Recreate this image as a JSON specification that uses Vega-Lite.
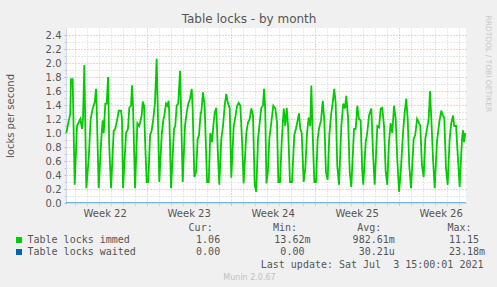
{
  "$schema": "https://vega.github.io/schema/vega-lite/v6.json",
  "autosize": {"type": "none"},
  "width": 400,
  "height": 175,
  "padding": {"left": 66, "top": 28, "right": 31, "bottom": 84},
  "background": "#f0f0f0",
  "view": {"fill": "#ffffff", "stroke": null},
  "config": {"font": "DejaVu Sans"},
  "title": {"text": "Table locks - by month", "font": "DejaVu Sans", "fontSize": 12, "fontWeight": "normal", "color": "#555555", "anchor": "middle", "frame": "group", "dx": -17, "baseline": "alphabetic", "offset": -20},
  "datasets": {
    "immed": [
      {"day":0.3,"value":1.0},{"day":0.63,"value":1.28},{"day":0.69,"value":1.77},{"day":0.83,"value":1.77},{"day":1.0,"value":0.26},{"day":1.19,"value":1.1},{"day":1.47,"value":1.2},{"day":1.61,"value":1.06},{"day":1.69,"value":1.2},{"day":1.8,"value":1.97},{"day":1.97,"value":0.21},
      {"day":2.17,"value":0.64},{"day":2.33,"value":1.2},{"day":2.5,"value":1.35},{"day":2.67,"value":1.44},{"day":2.78,"value":1.63},{"day":2.83,"value":1.39},{"day":3.0,"value":0.21},
      {"day":3.22,"value":0.92},{"day":3.33,"value":1.18},{"day":3.42,"value":1.0},{"day":3.55,"value":1.42},{"day":3.67,"value":1.42},{"day":3.78,"value":1.8},{"day":3.88,"value":0.82},{"day":4.03,"value":0.21},
      {"day":4.25,"value":1.03},{"day":4.38,"value":1.06},{"day":4.53,"value":1.18},{"day":4.67,"value":1.32},{"day":4.86,"value":1.32},{"day":4.94,"value":1.2},{"day":5.03,"value":0.21},
      {"day":5.28,"value":1.0},{"day":5.44,"value":1.06},{"day":5.55,"value":1.36},{"day":5.69,"value":1.39},{"day":5.78,"value":1.68},{"day":5.86,"value":1.39},{"day":6.03,"value":0.21},
      {"day":6.22,"value":1.14},{"day":6.38,"value":1.1},{"day":6.58,"value":1.25},{"day":6.67,"value":1.45},{"day":6.78,"value":1.39},{"day":6.86,"value":0.92},{"day":7.0,"value":0.3},{"day":7.13,"value":0.3},
      {"day":7.28,"value":0.97},{"day":7.42,"value":1.04},{"day":7.55,"value":1.2},{"day":7.69,"value":1.43},{"day":7.83,"value":2.06},{"day":7.97,"value":0.97},{"day":8.05,"value":0.3},
      {"day":8.25,"value":0.97},{"day":8.38,"value":1.18},{"day":8.47,"value":1.25},{"day":8.61,"value":1.42},{"day":8.72,"value":1.39},{"day":8.83,"value":1.46},{"day":8.88,"value":1.29},{"day":9.03,"value":0.21},
      {"day":9.28,"value":1.06},{"day":9.38,"value":1.1},{"day":9.5,"value":1.39},{"day":9.63,"value":1.42},{"day":9.78,"value":1.89},{"day":9.86,"value":1.35},{"day":10.0,"value":0.3},
      {"day":10.19,"value":1.1},{"day":10.33,"value":1.29},{"day":10.47,"value":1.42},{"day":10.61,"value":1.49},{"day":10.75,"value":1.63},{"day":10.83,"value":1.35},{"day":10.97,"value":0.37},{"day":11.11,"value":0.44},
      {"day":11.25,"value":0.92},{"day":11.36,"value":0.97},{"day":11.5,"value":1.29},{"day":11.55,"value":1.29},{"day":11.69,"value":1.58},{"day":11.83,"value":1.39},{"day":12.03,"value":0.3},{"day":12.17,"value":0.3},
      {"day":12.3,"value":1.0},{"day":12.44,"value":0.87},{"day":12.58,"value":1.15},{"day":12.67,"value":1.29},{"day":12.8,"value":1.36},{"day":12.94,"value":0.68},{"day":13.05,"value":0.26},
      {"day":13.22,"value":0.92},{"day":13.36,"value":1.1},{"day":13.5,"value":1.39},{"day":13.63,"value":1.56},{"day":13.78,"value":1.42},{"day":13.92,"value":1.35},{"day":14.05,"value":0.36},
      {"day":14.25,"value":1.1},{"day":14.38,"value":1.22},{"day":14.53,"value":1.39},{"day":14.67,"value":1.43},{"day":14.8,"value":1.39},{"day":14.94,"value":0.92},{"day":15.08,"value":0.28},
      {"day":15.3,"value":1.0},{"day":15.44,"value":1.15},{"day":15.58,"value":1.2},{"day":15.72,"value":1.35},{"day":15.86,"value":1.25},{"day":16.0,"value":0.26},{"day":16.13,"value":0.16},
      {"day":16.28,"value":0.92},{"day":16.42,"value":1.15},{"day":16.55,"value":1.36},{"day":16.69,"value":1.39},{"day":16.78,"value":1.63},{"day":16.88,"value":1.32},{"day":16.98,"value":0.28},{"day":17.1,"value":0.45},
      {"day":17.22,"value":0.92},{"day":17.42,"value":1.2},{"day":17.55,"value":1.39},{"day":17.72,"value":1.35},{"day":17.86,"value":1.15},{"day":17.97,"value":0.3},{"day":18.11,"value":0.3},
      {"day":18.25,"value":0.87},{"day":18.42,"value":1.35},{"day":18.55,"value":1.1},{"day":18.67,"value":1.36},{"day":18.78,"value":1.1},{"day":18.94,"value":0.3},{"day":19.11,"value":0.3},
      {"day":19.3,"value":0.97},{"day":19.44,"value":1.06},{"day":19.58,"value":1.18},{"day":19.69,"value":1.28},{"day":19.8,"value":1.06},{"day":19.92,"value":1.0},{"day":20.08,"value":0.3},{"day":20.22,"value":0.5},
      {"day":20.36,"value":1.0},{"day":20.5,"value":1.22},{"day":20.63,"value":1.1},{"day":20.72,"value":1.68},{"day":20.83,"value":1.0},{"day":20.97,"value":0.3},{"day":21.11,"value":0.3},
      {"day":21.25,"value":0.92},{"day":21.38,"value":1.08},{"day":21.53,"value":1.18},{"day":21.67,"value":1.46},{"day":21.8,"value":1.18},{"day":21.94,"value":0.44},{"day":22.08,"value":0.33},
      {"day":22.22,"value":0.97},{"day":22.36,"value":1.25},{"day":22.5,"value":1.43},{"day":22.63,"value":1.63},{"day":22.75,"value":1.42},{"day":22.88,"value":0.54},{"day":23.03,"value":0.26},
      {"day":23.22,"value":1.1},{"day":23.38,"value":1.42},{"day":23.53,"value":1.35},{"day":23.63,"value":1.53},{"day":23.78,"value":1.22},{"day":23.92,"value":0.44},{"day":24.05,"value":0.23},
      {"day":24.28,"value":1.06},{"day":24.42,"value":1.06},{"day":24.55,"value":1.39},{"day":24.69,"value":1.2},{"day":24.83,"value":1.18},{"day":24.97,"value":0.44},{"day":25.05,"value":0.26},
      {"day":25.25,"value":0.87},{"day":25.38,"value":1.0},{"day":25.53,"value":1.25},{"day":25.72,"value":1.35},{"day":25.86,"value":0.72},{"day":26.0,"value":0.26},
      {"day":26.22,"value":1.1},{"day":26.36,"value":1.08},{"day":26.5,"value":1.35},{"day":26.63,"value":1.36},{"day":26.78,"value":1.1},{"day":26.92,"value":0.44},{"day":27.05,"value":0.26},
      {"day":27.19,"value":0.87},{"day":27.33,"value":1.14},{"day":27.47,"value":1.0},{"day":27.61,"value":1.39},{"day":27.75,"value":1.2},{"day":27.88,"value":0.64},{"day":28.03,"value":0.16},{"day":28.17,"value":0.44},
      {"day":28.36,"value":1.0},{"day":28.5,"value":1.29},{"day":28.63,"value":1.49},{"day":28.75,"value":1.2},{"day":28.88,"value":0.54},{"day":29.03,"value":0.21},
      {"day":29.25,"value":0.92},{"day":29.38,"value":0.97},{"day":29.53,"value":1.2},{"day":29.67,"value":1.15},{"day":29.8,"value":1.1},{"day":29.94,"value":0.54},{"day":30.08,"value":0.37},
      {"day":30.22,"value":0.92},{"day":30.36,"value":1.06},{"day":30.5,"value":1.2},{"day":30.61,"value":1.6},{"day":30.72,"value":1.2},{"day":30.86,"value":0.64},{"day":31.0,"value":0.21},
      {"day":31.19,"value":0.87},{"day":31.38,"value":1.15},{"day":31.55,"value":1.32},{"day":31.67,"value":1.25},{"day":31.8,"value":1.22},{"day":31.94,"value":0.5},{"day":32.08,"value":0.26},
      {"day":32.25,"value":0.92},{"day":32.38,"value":1.14},{"day":32.53,"value":1.25},{"day":32.63,"value":1.1},{"day":32.78,"value":1.1},{"day":32.94,"value":0.64},{"day":33.08,"value":0.23},
      {"day":33.28,"value":0.92},{"day":33.36,"value":1.04},{"day":33.44,"value":0.87},{"day":33.55,"value":1.0}
    ],
    "waited": [{"day":0.275,"value":0},{"day":33.61,"value":0}]
  },
  "layer": [
    {
      "data": {"name": "immed"},
      "mark": {"type": "line", "strokeWidth": 1.8, "interpolate": "linear"},
      "encoding": {
        "x": {
          "field": "day", "type": "quantitative",
          "scale": {"domain": [0.275, 33.61], "nice": false, "zero": false},
          "axis": {
            "orient": "bottom",
            "values": [1,2,3,3.5,4,5,6,7,8,9,10,10.5,11,12,13,14,15,16,17,17.5,18,19,20,21,22,23,24,24.5,25,26,27,28,29,30,31,31.5,32,33],
            "domain": false,
            "grid": true,
            "gridDash": [1, 2],
            "gridColor": {"condition": {"test": "datum.value % 7 === 0", "value": "#f0a0a0"}, "value": "#d0d0d0"},
            "gridOpacity": {"condition": {"test": "datum.value % 1 !== 0", "value": 0}, "value": 1},
            "ticks": true,
            "tickSize": 2,
            "tickColor": {"condition": {"test": "datum.value % 7 === 0", "value": "#f0a0a0"}, "value": "#c8c8c8"},
            "tickOpacity": {"condition": {"test": "datum.value % 1 !== 0", "value": 0}, "value": 1},
            "labelExpr": "datum.value % 1 ? 'Week ' + (22 + floor(datum.value / 7)) : ''",
            "labelFont": "DejaVu Sans", "labelFontSize": 10, "labelColor": "#555555",
            "labelBaseline": "alphabetic", "labelAlign": "center", "labelPadding": 11,
            "labelOverlap": false, "labelBound": false, "labelFlush": false,
            "title": "Last update: Sat Jul\u00a0\u00a03 15:00:01 2021",
            "titleFont": "DejaVu Sans Mono", "titleFontSize": 10, "titleFontWeight": "normal", "titleColor": "#555555",
            "titleX": 417, "titleY": 64, "titleAlign": "right", "titleBaseline": "alphabetic", "titleAngle": 0
          }
        },
        "y": {
          "field": "value", "type": "quantitative",
          "scale": {"domain": [0, 2.5], "nice": false, "zero": true},
          "axis": {
            "orient": "left",
            "values": [0,0.1,0.2,0.3,0.4,0.5,0.6,0.7,0.8,0.9,1.0,1.1,1.2,1.3,1.4,1.5,1.6,1.7,1.8,1.9,2.0,2.1,2.2,2.3,2.4],
            "domain": true, "domainColor": "#cfd6f8", "domainWidth": 1,
            "grid": true,
            "gridDash": [1, 2],
            "gridColor": {"condition": {"test": "round(datum.value * 10) % 2 === 0", "value": "#f0a0a0"}, "value": "#d0d0d0"},
            "ticks": true,
            "tickSize": 2,
            "tickColor": {"condition": {"test": "round(datum.value * 10) % 2 === 0", "value": "#f0a0a0"}, "value": "#c8c8c8"},
            "labelExpr": "round(datum.value * 10) % 2 ? '' : format(datum.value, '.1f')",
            "labelFont": "DejaVu Sans", "labelFontSize": 10, "labelColor": "#555555",
            "labelBaseline": "middle", "labelAlign": "right", "labelPadding": 3,
            "labelOverlap": false, "labelBound": false, "labelFlush": false,
            "title": "locks per second",
            "titleFont": "DejaVu Sans", "titleFontSize": 10, "titleFontWeight": "normal", "titleColor": "#555555",
            "titleAngle": -90, "titleX": -52.7, "titleY": 87.5, "titleAlign": "center", "titleBaseline": "alphabetic"
          }
        },
        "color": {
          "datum": "Table locks immed", "type": "nominal",
          "scale": {"domain": ["Table locks immed", "Table locks waited"], "range": ["#00cc00", "#0066b3"]},
          "legend": {
            "orient": "none", "legendX": -52, "legendY": 195, "direction": "vertical", "padding": 0,
            "title": "\u200b\u00a0\u00a0\u00a0\u00a0\u00a0\u00a0\u00a0\u00a0\u00a0\u00a0\u00a0\u00a0\u00a0\u00a0\u00a0\u00a0\u00a0\u00a0\u00a0\u00a0\u00a0\u00a0\u00a0\u00a0\u00a0\u00a0\u00a0\u00a0\u00a0Cur:\u00a0\u00a0\u00a0\u00a0\u00a0\u00a0\u00a0\u00a0\u00a0\u00a0Min:\u00a0\u00a0\u00a0\u00a0\u00a0\u00a0\u00a0\u00a0\u00a0\u00a0Avg:\u00a0\u00a0\u00a0\u00a0\u00a0\u00a0\u00a0\u00a0\u00a0\u00a0\u00a0Max:",
            "titleFont": "DejaVu Sans Mono", "titleFontSize": 10, "titleFontWeight": "normal", "titleColor": "#555555",
            "titleLimit": 0, "titlePadding": 2, "titleBaseline": "top",
            "symbolType": "square", "symbolSize": 36, "symbolStrokeWidth": 0, "symbolOpacity": 1,
            "labelFont": "DejaVu Sans Mono", "labelFontSize": 10, "labelColor": "#555555", "labelLimit": 0,
            "labelOffset": 3.5, "labelBaseline": "middle", "rowPadding": 2,
            "labelExpr": "datum.label === 'Table locks immed' ? 'Table locks immed\u00a0\u00a0\u00a0\u00a0\u00a0\u00a0\u00a0\u00a0\u00a0\u00a0\u00a01.06\u00a0\u00a0\u00a0\u00a0\u00a0\u00a0\u00a0\u00a0\u00a013.62m\u00a0\u00a0\u00a0\u00a0\u00a0\u00a0\u00a0982.61m\u00a0\u00a0\u00a0\u00a0\u00a0\u00a0\u00a0\u00a0\u00a011.15' : 'Table locks waited\u00a0\u00a0\u00a0\u00a0\u00a0\u00a0\u00a0\u00a0\u00a0\u00a00.00\u00a0\u00a0\u00a0\u00a0\u00a0\u00a0\u00a0\u00a0\u00a0\u00a00.00\u00a0\u00a0\u00a0\u00a0\u00a0\u00a0\u00a0\u00a0\u00a030.21u\u00a0\u00a0\u00a0\u00a0\u00a0\u00a0\u00a0\u00a0\u00a023.18m'",
            "encode": {"symbols": {"update": {"fill": {"scale": "color", "field": "value"}, "strokeWidth": {"value": 0}}}}
          }
        }
      }
    },
    {
      "data": {"name": "waited"},
      "mark": {"type": "line", "strokeWidth": 1},
      "encoding": {
        "x": {
          "field": "day", "type": "quantitative",
          "axis": {
            "orient": "bottom", "domain": true, "domainColor": "#cfd6f8", "domainWidth": 1,
            "grid": false, "ticks": false, "labels": false, "zindex": 1,
            "title": "Munin 2.0.67",
            "titleFont": "DejaVu Sans", "titleFontSize": 8, "titleFontWeight": "normal", "titleColor": "#c0c0c0",
            "titleX": 183, "titleY": 76, "titleAlign": "center", "titleBaseline": "alphabetic", "titleAngle": 0
          }
        },
        "y": {
          "field": "value", "type": "quantitative",
          "axis": {
            "orient": "right", "domain": false, "grid": false, "ticks": false, "labels": false,
            "title": "RRDTOOL / TOBI OETIKER",
            "titleFont": "DejaVu Sans", "titleFontSize": 7.5, "titleFontWeight": "normal", "titleColor": "#c8c8c8",
            "titleAngle": 90, "titleX": 19, "titleY": -13, "titleAlign": "left", "titleBaseline": "alphabetic"
          }
        },
        "color": {"datum": "Table locks waited", "type": "nominal"}
      }
    }
  ],
  "resolve": {"axis": {"x": "independent", "y": "independent"}}
}
